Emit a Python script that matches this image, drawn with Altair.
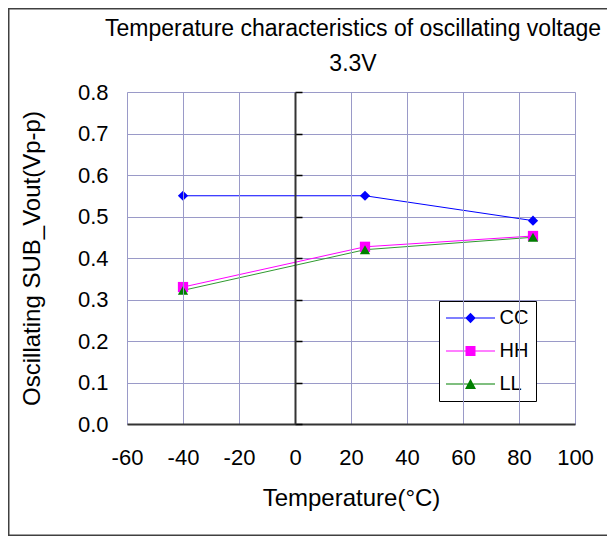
import altair as alt
import pandas as pd

# ---- data ----
temps = [-40, 25, 85]
series_names = ["CC", "HH", "LL"]
cc_values = [0.550, 0.550, 0.490]
hh_values = [0.330, 0.427, 0.453]
ll_values = [0.322, 0.420, 0.450]

x_ticks = [-60, -40, -20, 0, 20, 40, 60, 80, 100]
y_ticks = [0.0, 0.1, 0.2, 0.3, 0.4, 0.5, 0.6, 0.7, 0.8]
title_lines = ["Temperature characteristics of oscillating voltage", "3.3V"]
x_title = "Temperature(°C)"
y_title = "Oscillating SUB_Vout(Vp-p)"

# ---- styles ----
line_colors = ["#0000ff", "#ff00ff", "#2f9a2f"]
marker_colors = ["#0000ff", "#ff00ff", "#008000"]
marker_shapes = ["diamond", "square", "triangle-up"]
# legend symbols: a thin line segment with the marker on it (custom SVG paths,
# 1 unit = 10 px with symbolSize 400)
seg = "M-2.45,-0.05H2.45V0.05H-2.45Z"
legend_shapes = [
    seg + "M0,-0.52L0.52,0L0,0.52L-0.52,0Z",
    seg + "M-0.5,-0.5H0.5V0.5H-0.5Z",
    seg + "M0,-0.52L0.55,0.5H-0.55Z",
]
FONT = "Liberation Sans"
GRID = "#9a9ac8"

rows = []
for name, vals in zip(series_names, [cc_values, hh_values, ll_values]):
    for t, v in zip(temps, vals):
        rows.append({"temp": t, "value": v, "series": name})
df = pd.DataFrame(rows)

x_scale = alt.Scale(domain=[-60, 100], nice=False, zero=False)
y_scale = alt.Scale(domain=[0, 0.8], nice=False)

x_enc = alt.X(
    "temp:Q", scale=x_scale,
    axis=alt.Axis(values=x_ticks, title=x_title, grid=True, gridColor=GRID, gridWidth=1,
                  ticks=False, domain=True, domainColor="#333333", domainWidth=2,
                  labelExpr="'' + datum.value", labelOverlap=False, labelFlush=False,
                  labelFontSize=22, labelPadding=23, labelFont=FONT, labelColor="black",
                  titleFont=FONT, titleFontSize=24, titleFontWeight="normal", titleColor="black",
                  titlePadding=18, zindex=1),
)

base = alt.Chart(df)

lines = base.mark_line(strokeWidth=1).encode(
    x=x_enc,
    y=alt.Y("value:Q", scale=y_scale,
            axis=alt.Axis(values=y_ticks, format=".1f", title=y_title, grid=True, gridColor=GRID,
                          gridWidth=1, ticks=False, domain=False, labelFontSize=22, labelPadding=19,
                          labelFlush=False,
                          labelFont=FONT, labelColor="black", titleFont=FONT, titleFontSize=24,
                          titleFontWeight="normal", titleColor="black", titleX=-95, titleY=166,
                          titleAlign="center", titleBaseline="middle", titleAngle=270)),
    stroke=alt.Stroke("series:N", scale=alt.Scale(domain=series_names, range=line_colors), legend=None),
)

points = base.mark_point(filled=True, size=105, opacity=1).encode(
    x=alt.X("temp:Q", scale=x_scale),
    y=alt.Y("value:Q", scale=y_scale,
            axis=alt.Axis(orient="right", offset=-280, values=y_ticks, labels=False, title=None,
                          grid=False, domain=True, domainColor="#333333", domainWidth=2,
                          ticks=True, tickSize=7, tickColor="black", tickWidth=1.5, zindex=1)),
    color=alt.Color("series:N", scale=alt.Scale(domain=series_names, range=marker_colors), legend=None),
    shape=alt.Shape("series:N", scale=alt.Scale(domain=series_names, range=marker_shapes), legend=None),
)

leg = alt.Legend(orient="none", legendX=312, legendY=209, title=None, strokeColor="black",
                 fillColor="white", padding=7, labelFont=FONT, labelFontSize=20,
                 labelColor="black", symbolSize=400, symbolStrokeWidth=0, symbolOffset=14.5,
                 labelOffset=19, rowPadding=13, symbolOpacity=1)

legend_layer = base.mark_point(filled=True, size=0).encode(
    x=alt.X("temp:Q", scale=x_scale),
    y=alt.Y("value:Q", scale=y_scale, axis=None),
    color=alt.Color("series:N", scale=alt.Scale(domain=series_names, range=marker_colors), legend=leg),
    shape=alt.Shape("series:N", scale=alt.Scale(domain=series_names, range=legend_shapes), legend=leg),
)

frame = alt.Chart(pd.DataFrame({"f": [0]})).mark_rect(
    fillOpacity=0, stroke="#404040", strokeWidth=1.5
).encode(
    x=alt.value(-118.25), x2=alt.value(600), y=alt.value(-83.25), y2=alt.value(443.25)
)

chart = alt.layer(lines, points, legend_layer, frame).resolve_scale(
    shape="independent", color="independent"
).resolve_axis(y="independent").properties(
    width=448, height=332,
    autosize=alt.AutoSizeParams(type="none"),
    padding={"left": 119, "top": 84, "right": 32, "bottom": 112},
    title=alt.TitleParams(text=title_lines, fontSize=23, font=FONT, fontWeight="normal",
                          color="black", anchor="middle", dx=2, offset=20, dy=105.8, lineHeight=35,
                          baseline="alphabetic"),
).configure_view(stroke="#8c8c8c", strokeWidth=2).configure(background="white")

chart.save("out.html", embed_options={"renderer": "svg", "actions": False})
